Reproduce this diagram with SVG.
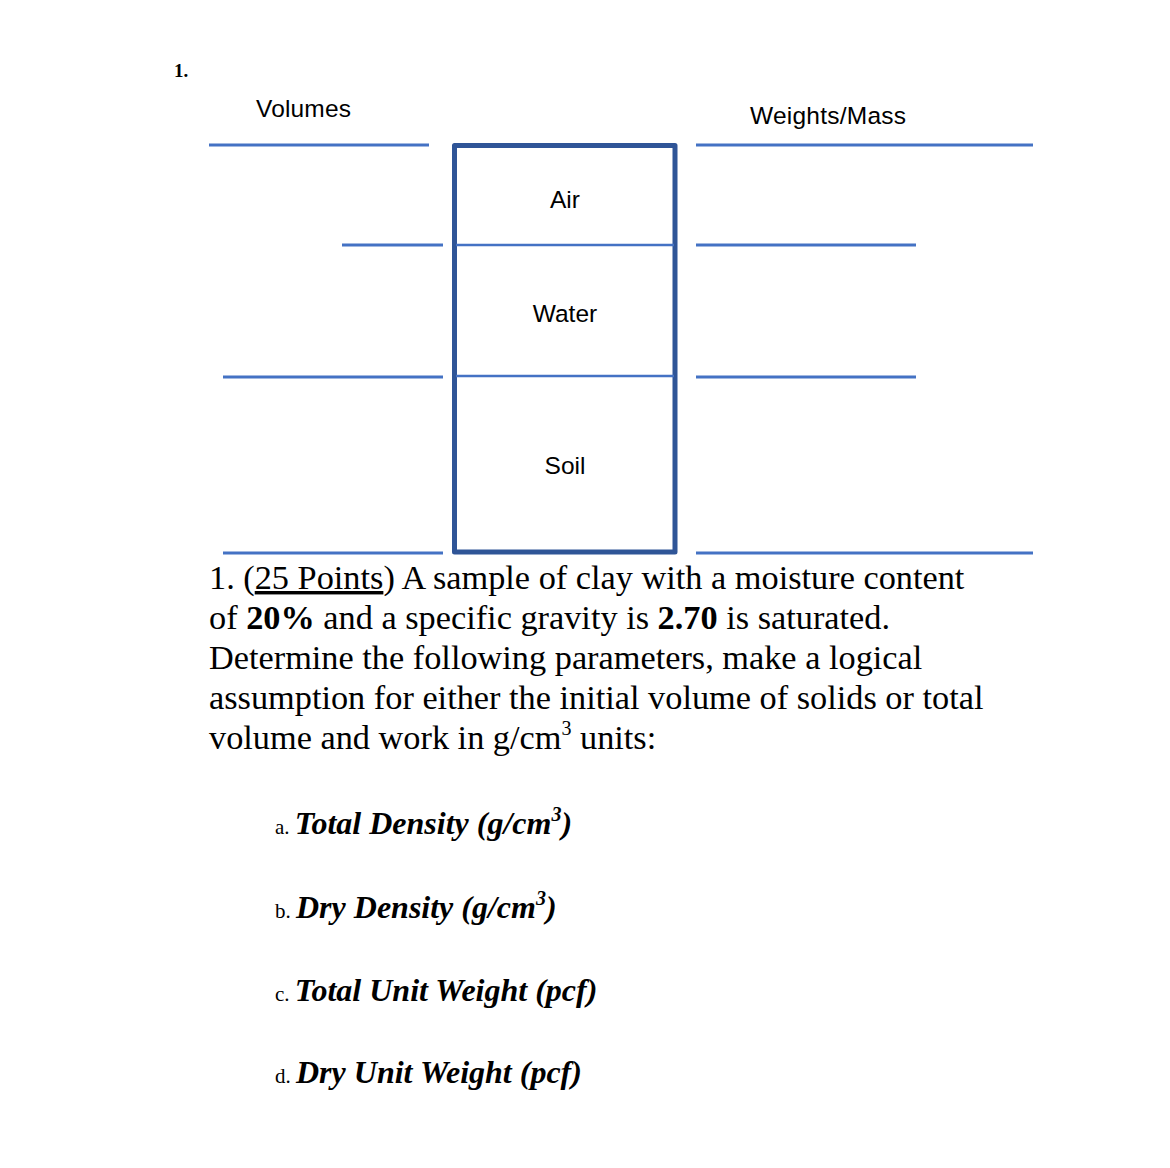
<svg xmlns="http://www.w3.org/2000/svg" width="1170" height="1168" viewBox="0 0 1170 1168">
<style>
.ln{stroke:#4472C4;stroke-width:3;fill:none}
.in{stroke:#4472C4;stroke-width:2.5;fill:none}
.sans{font-family:"Liberation Sans",Arial,sans-serif;font-size:24.5px;fill:#000}
.ser{font-family:"Liberation Serif","Times New Roman",serif;fill:#000}
.p{font-size:34.3px}
.it{font-size:32px;font-weight:bold;font-style:italic}
.lb{font-size:21px}
</style>
<rect width="1170" height="1168" fill="#fff"/>
<text class="ser" x="174" y="77" font-size="19" font-weight="bold">1.</text>
<g id="labels">
<text class="sans" x="256" y="117" textLength="95">Volumes</text>
<text class="sans" x="750" y="124" textLength="156">Weights/Mass</text>
</g>
<g id="connectors">
<line class="ln" x1="209" y1="145" x2="429" y2="145"/>
<line class="ln" x1="342" y1="245" x2="443" y2="245"/>
<line class="ln" x1="223" y1="377" x2="443" y2="377"/>
<line class="ln" x1="223" y1="553" x2="443" y2="553"/>
<line class="ln" x1="696" y1="145" x2="1033" y2="145"/>
<line class="ln" x1="696" y1="245" x2="916" y2="245"/>
<line class="ln" x1="696" y1="377" x2="916" y2="377"/>
<line class="ln" x1="696" y1="553" x2="1033" y2="553"/>
</g>
<g id="box">
<rect x="454.5" y="145.5" width="220.5" height="406.5" fill="none" stroke="#2F5597" stroke-width="5" stroke-linejoin="round"/>
<line class="in" x1="456" y1="245" x2="674" y2="245"/>
<line class="in" x1="456" y1="376" x2="674" y2="376"/>
</g>
<g id="air"><text class="sans" x="565" y="208" text-anchor="middle">Air</text></g>
<g id="water"><text class="sans" x="565" y="322" text-anchor="middle">Water</text></g>
<g id="soil"><text class="sans" x="565" y="474" text-anchor="middle">Soil</text></g>
<g id="question" class="ser p">
<text x="209" y="589">1. (<tspan text-decoration="underline">25 Points</tspan>) A sample of clay with a moisture content</text>
<text x="209" y="629">of <tspan font-weight="bold">20%</tspan> and a specific gravity is <tspan font-weight="bold">2.70</tspan> is saturated.</text>
<text x="209" y="669">Determine the following parameters, make a logical</text>
<text x="209" y="709">assumption for either the initial volume of solids or total</text>
<text x="209" y="749">volume and work in g/cm<tspan font-size="20" dy="-14">3</tspan><tspan dy="14"> units:</tspan></text>
</g>
<g id="items" class="ser">
<text x="275" y="834"><tspan class="lb">a. </tspan><tspan class="it">Total Density (g/cm<tspan font-size="20" dy="-13">3</tspan><tspan dy="13">)</tspan></tspan></text>
<text x="275" y="918"><tspan class="lb">b. </tspan><tspan class="it">Dry Density (g/cm<tspan font-size="20" dy="-13">3</tspan><tspan dy="13">)</tspan></tspan></text>
<text x="275" y="1001"><tspan class="lb">c. </tspan><tspan class="it">Total Unit Weight (pcf)</tspan></text>
<text x="275" y="1083"><tspan class="lb">d. </tspan><tspan class="it">Dry Unit Weight (pcf)</tspan></text>
</g>
</svg>
